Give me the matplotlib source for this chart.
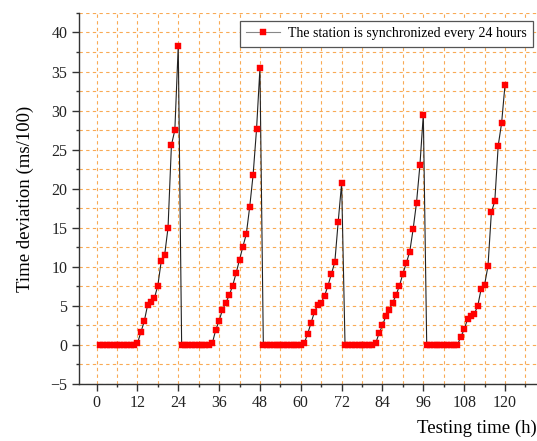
import matplotlib
matplotlib.use("Agg")
import matplotlib.pyplot as plt
from matplotlib.ticker import MultipleLocator

plt.rcParams["font.family"] = ["Liberation Serif", "DejaVu Serif"]

# hourly samples, one list per 24 h cycle (zeros right after each sync)
hours = list(range(1, 121))
cycle1 = [0.0, 0.0, 0.0, 0.0, 0.0, 0.0, 0.0, 0.0, 0.0, 0.0, 0.0, 0.2,
          1.6, 3.0, 5.1, 5.5, 6.0, 7.6, 10.7, 11.5, 15.0, 25.6, 27.5, 38.3]
cycle2 = [0.0, 0.0, 0.0, 0.0, 0.0, 0.0, 0.0, 0.0, 0.0, 0.2,
          1.9, 3.1, 4.5, 5.4, 6.4, 7.6, 9.2, 10.9, 12.6, 14.2, 17.7, 21.8, 27.6, 35.4]
cycle3 = [0.0, 0.0, 0.0, 0.0, 0.0, 0.0, 0.0, 0.0, 0.0, 0.0, 0.0, 0.0, 0.2,
          1.4, 2.8, 4.2, 5.1, 5.4, 6.3, 7.6, 9.1, 10.6, 15.8, 20.7]
cycle4 = [0.0, 0.0, 0.0, 0.0, 0.0, 0.0, 0.0, 0.0, 0.0, 0.2,
          1.5, 2.5, 3.7, 4.5, 5.4, 6.4, 7.6, 9.1, 10.5, 11.9, 14.8, 18.2, 23.0, 29.5]
cycle5 = [0.0, 0.0, 0.0, 0.0, 0.0, 0.0, 0.0, 0.0, 0.0, 0.0,
          1.0, 2.0, 3.3, 3.7, 4.0, 5.0, 7.2, 7.7, 10.1, 17.0, 18.4, 25.5, 28.4, 33.3]
deviation = cycle1 + cycle2 + cycle3 + cycle4 + cycle5

x_ticks = [0, 12, 24, 36, 48, 60, 72, 84, 96, 108, 120]
y_ticks = [-5, 0, 5, 10, 15, 20, 25, 30, 35, 40]

fig = plt.figure(figsize=(5.37, 4.41), dpi=100)
ax = fig.add_axes([0.1462, 0.1293, 0.8538, 0.8413])

ax.plot(hours, deviation, color="#222222", lw=0.8, marker="s", markersize=4.2,
        markerfacecolor="red", markeredgecolor="red", markeredgewidth=0.3,
        label="The station is synchronized every 24 hours")

ax.set_xlim(-5.3, 129.4)
ax.set_ylim(-5, 42.5)
ax.set_xticks(x_ticks)
ax.set_yticks(y_ticks)
ax.xaxis.set_minor_locator(MultipleLocator(6))
ax.yaxis.set_minor_locator(MultipleLocator(2.5))

ax.grid(True, which="both", color="#f9aa55", lw=0.8, ls=(0, (3, 3)))
ax.set_axisbelow(True)

for s in ["top", "right"]:
    ax.spines[s].set_visible(False)
for s in ["left", "bottom"]:
    ax.spines[s].set_color("#333333")
    ax.spines[s].set_linewidth(1.0)

ax.tick_params(which="major", direction="out", length=5, width=1.0,
               color="#333333", labelsize=11.5, labelcolor="#222222", pad=3)
ax.tick_params(which="minor", direction="out", length=2.5, width=1.0,
               color="#333333")

ax.set_ylabel("Time deviation (ms/100)", fontsize=13.5)
ax.yaxis.set_label_coords(-0.096, 0.5)
ax.set_xlabel("Testing time (h)", fontsize=13.5, loc="right")
ax.xaxis.set_label_coords(1.0, -0.095)

leg = ax.legend(loc="upper right", bbox_to_anchor=(533 / 537, 1 - 21 / 441),
                bbox_transform=fig.transFigure, borderaxespad=0,
                fontsize=10, numpoints=1, handlelength=2.4,
                handletextpad=0.6, borderpad=0.45, fancybox=False,
                framealpha=1)
leg.get_frame().set_edgecolor("#555555")
leg.get_frame().set_linewidth(0.9)
for h in leg.legend_handles:
    h.set_color("#888888")
    h.set_markerfacecolor("red")
    h.set_markeredgecolor("red")

fig.savefig("out.png", dpi=100)
